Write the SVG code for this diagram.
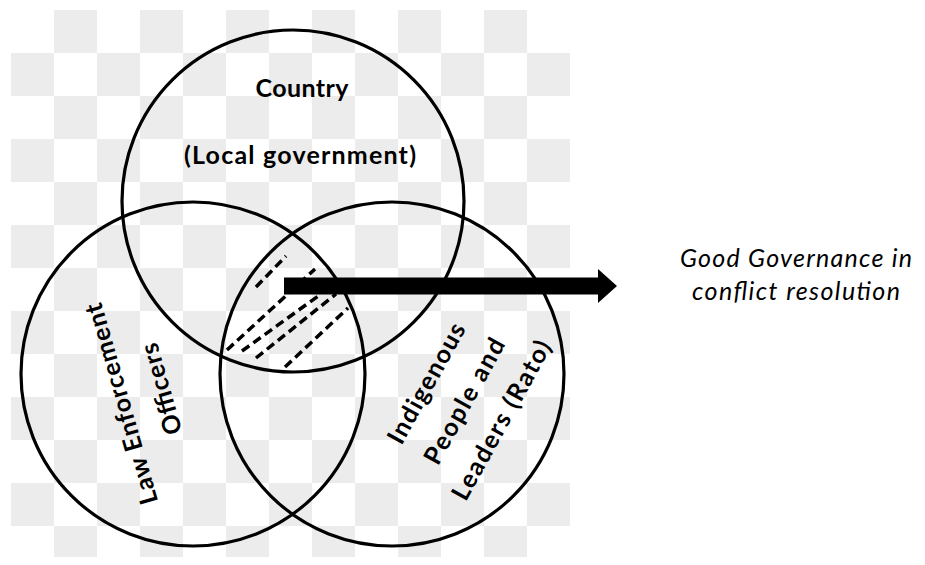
<svg xmlns="http://www.w3.org/2000/svg" width="925" height="565" viewBox="0 0 925 565">
<style>
.ring{fill:none;stroke:#000;stroke-width:3.2}
.lbl{font-family:Lato,"Liberation Sans",sans-serif;font-weight:bold;font-size:25px;fill:#000;text-anchor:middle}
.it{font-family:Lato,"Liberation Sans",sans-serif;font-style:italic;font-size:25px;fill:#000;text-anchor:middle}
.dash{stroke:#000;stroke-width:3.5;stroke-dasharray:9 5;fill:none}
</style>
<defs>
<pattern id="chk" patternUnits="userSpaceOnUse" x="11" y="10" width="86" height="86">
<rect x="0" y="0" width="86" height="86" fill="#fff"/>
<rect x="43" y="0" width="43" height="43" fill="#ececec"/>
<rect x="0" y="43" width="43" height="43" fill="#ececec"/>
</pattern>
</defs>
<rect width="925" height="565" fill="#fff"/>
<rect x="11" y="10" width="559" height="547" fill="url(#chk)"/>
<g id="hatch">
<line class="dash" x1="256" y1="287" x2="286" y2="256"/>
<line class="dash" x1="227" y1="350" x2="315" y2="269"/>
<line class="dash" x1="242" y1="351" x2="321" y2="294"/>
<line class="dash" x1="256" y1="358" x2="336" y2="294"/>
<line class="dash" x1="285" y1="367" x2="348" y2="308"/>
</g>
<g id="country">
<circle class="ring" cx="293" cy="201" r="171"/>
<text class="lbl" x="302" y="97" textLength="93">Country</text>
<text class="lbl" x="300" y="164" textLength="232">(Local government)</text>
</g>
<g id="law">
<circle class="ring" cx="193" cy="374" r="172"/>
<text class="lbl" transform="translate(121,404) rotate(-106)" x="0" y="9" textLength="208">Law Enforcement</text>
<text class="lbl" transform="translate(161,389) rotate(-106)" x="0" y="9" textLength="94">Officers</text>
</g>
<g id="indigenous">
<circle class="ring" cx="392" cy="374" r="172"/>
<text class="lbl" transform="translate(426,383) rotate(-61)" x="0" y="9" textLength="134">Indigenous</text>
<text class="lbl" transform="translate(464,401) rotate(-61)" x="0" y="9" textLength="140">People and</text>
<text class="lbl" transform="translate(501,420) rotate(-61)" x="0" y="9" textLength="178">Leaders (Rato)</text>
</g>
<g id="connectors">
<path d="M284,277.5 H598 V269 L617,286 L598,303 V294.5 H284 Z" fill="#000"/>
</g>
<g id="outcome">
<text class="it" x="796" y="267" textLength="232">Good Governance in</text>
<text class="it" x="796" y="300" textLength="208">conflict resolution</text>
</g>
</svg>
